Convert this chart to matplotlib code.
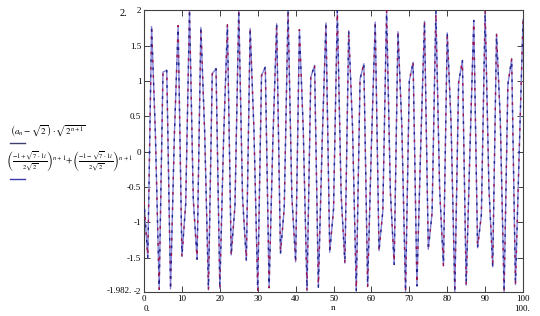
import numpy as np
import matplotlib
matplotlib.use("Agg")
import matplotlib.pyplot as plt

plt.rcParams['font.family'] = ['Liberation Serif', 'DejaVu Serif']
plt.rcParams['mathtext.fontset'] = 'stix'

# n = 0 .. 100, both traces (numeric a_n form and closed form) coincide
n_vals = list(range(0, 101))
seq_vals = [
    -0.707, -1.500, 1.768, 0.250, -1.945, 1.125, 1.149, -1.938, 0.221, 1.781,
    -1.480, -0.734, 2.000, -0.680, -1.519, 1.754, 0.279, -1.951, 1.101, 1.173,
    -1.930, 0.192, 1.794, -1.460, -0.761, 1.999, -0.652, -1.538, 1.740, 0.308,
    -1.957, 1.076, 1.196, -1.922, 0.163, 1.807, -1.440, -0.788, 1.998, -0.624,
    -1.557, 1.725, 0.337, -1.963, 1.051, 1.220, -1.914, 0.134, 1.819, -1.420,
    -0.815, 1.997, -0.597, -1.575, 1.710, 0.366, -1.969, 1.026, 1.243, -1.905,
    0.104, 1.831, -1.399, -0.842, 1.995, -0.569, -1.593, 1.695, 0.394, -1.974,
    1.001, 1.265, -1.896, 0.075, 1.843, -1.379, -0.868, 1.992, -0.541, -1.610,
    1.679, 0.423, -1.978, 0.976, 1.288, -1.887, 0.046, 1.854, -1.357, -0.895,
    1.990, -0.512, -1.627, 1.663, 0.451, -1.982, 0.950, 1.310, -1.877, 0.017,
    1.865,
]
closed_vals = list(seq_vals)

x_ticks = [0, 10, 20, 30, 40, 50, 60, 70, 80, 90, 100]
y_ticks = [-1.5, -1, -0.5, 0, 0.5, 1, 1.5, 2]
y_tick_labels = ['-1.5', '-1', '-0.5', '0', '0.5', '1', '1.5', '2']

fig = plt.figure(figsize=(5.4, 3.16), dpi=100)
ax = fig.add_axes([0.2667, 0.076, 0.7019, 0.892])

ax.plot(n_vals, seq_vals, color='#8585d6', lw=1.0, zorder=2)
ax.plot(n_vals, closed_vals, color='#9c1048', lw=1.0, dashes=(2, 9), zorder=3)
ax.plot(n_vals, closed_vals, color='#22228a', lw=1.0, dashes=(0, 5.5, 2, 3.5),
        zorder=3)

y_lo = min(seq_vals)
ax.set_xlim(0, 100)
ax.set_ylim(y_lo, 2)
ax.set_xticks(x_ticks)
ax.set_yticks(y_ticks)
ax.set_yticklabels(y_tick_labels)
ax.tick_params(direction='in', length=4, width=0.7, labelsize=6.5,
               top=True, right=True, color='#404040', pad=2)
for s in ax.spines.values():
    s.set_color('#404040')
    s.set_linewidth(0.8)

# Mathcad-style limit markers
ax.text(-0.008, 0.0, '-2', transform=ax.transAxes, ha='right', va='center',
        fontsize=6.5)
fig.text(120 / 540, 1 - 14 / 316, '2.', ha='left', va='center', fontsize=7.5)
fig.text(132 / 540, 1 - 291 / 316, '-1.982.', ha='right', va='center',
         fontsize=6.5)
fig.text(147 / 540, 1 - 309 / 316, '0.', ha='center', va='center', fontsize=6.5)
fig.text(333 / 540, 1 - 308 / 316, 'n', ha='center', va='center', fontsize=6.5)
fig.text(522 / 540, 1 - 309 / 316, '100.', ha='center', va='center',
         fontsize=6.5)

# trace expressions on the left
fig.text(10 / 540, 1 - 131 / 316,
         r'$\left(a_n-\sqrt{2}\right)\cdot\sqrt{2^{n+1}}$',
         ha='left', va='center', fontsize=6.5)
fig.text(6 / 540, 1 - 161 / 316,
         r'$\left(\frac{-1+\sqrt{7}\cdot 1i}{2\sqrt{2}}\right)^{n+1}\!'
         r'+\!\left(\frac{-1-\sqrt{7}\cdot 1i}{2\sqrt{2}}\right)^{n+1}$',
         ha='left', va='center', fontsize=6.6)
fig.add_artist(plt.Line2D([10 / 540, 25 / 540], [1 - 143 / 316] * 2,
                          color='#404070', lw=1.0))
fig.add_artist(plt.Line2D([10 / 540, 25 / 540], [1 - 179 / 316] * 2,
                          color='#3a3ab0', lw=1.0))

fig.savefig('out.png', dpi=100)
